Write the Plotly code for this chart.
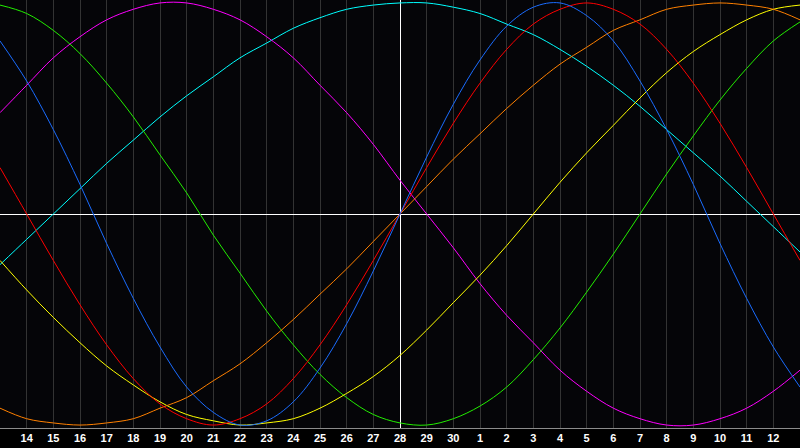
import plotly.graph_objects as go

# day offsets relative to the 28th (centre line)
days = list(range(-15, 16))
tick_offsets = list(range(-14, 15))
tick_labels = ["14", "15", "16", "17", "18", "19", "20", "21", "22", "23", "24", "25", "26", "27",
               "28", "29", "30", "1", "2", "3", "4", "5", "6", "7", "8", "9", "10", "11", "12"]

# values in percent, one per day
blue = [82, 63, 40, 14, -14, -40, -63, -82, -94, -100, -98, -89, -73, -52, -27, 0,
        27, 52, 73, 89, 98, 100, 94, 82, 63, 40, 14, -14, -40, -63, -82]
red = [22, 0, -22, -43, -62, -78, -90, -97, -100, -97, -90, -78, -62, -43, -22, 0,
       22, 43, 62, 78, 90, 97, 100, 97, 90, 78, 62, 43, 22, 0, -22]
green = [99, 95, 87, 76, 62, 46, 28, 10, -10, -28, -46, -62, -76, -87, -95, -99,
         -100, -97, -91, -82, -69, -54, -37, -19, 0, 19, 37, 54, 69, 82, 91]
magenta = [48, 61, 74, 84, 92, 97, 100, 100, 97, 92, 84, 74, 61, 48, 33, 16,
           0, -16, -33, -48, -61, -74, -84, -92, -97, -100, -100, -97, -92, -84, -74]
yellow = [-22, -36, -49, -61, -72, -81, -89, -95, -98, -100, -99, -97, -92, -85, -77, -67,
          -55, -42, -29, -15, 0, 15, 29, 42, 55, 67, 77, 85, 92, 97, 99]
orange = [-92, -97, -99, -100, -99, -97, -92, -87, -79, -71, -61, -50, -38, -26, -13, 0,
          13, 26, 38, 50, 61, 71, 79, 87, 92, 97, 99, 100, 99, 97, 92]
cyan = [-24, -12, 0, 12, 24, 35, 46, 56, 65, 74, 81, 88, 93, 97, 99, 100,
        100, 98, 95, 90, 85, 78, 70, 61, 51, 40, 29, 18, 6, -6, -18]

series = [
    ("cyan", cyan, "#00ffff"),
    ("magenta", magenta, "#ff00ff"),
    ("green", green, "#22ee00"),
    ("yellow", yellow, "#ffff00"),
    ("orange", orange, "#ff8000"),
    ("red", red, "#ff0000"),
    ("blue", blue, "#1a6cff"),
]

fig = go.Figure()
for name, vals, col in series:
    fig.add_trace(go.Scatter(x=days, y=vals, mode="lines", name=name,
                             line=dict(color=col, width=1, shape="spline"),
                             hoverinfo="skip"))

fig.update_layout(
    width=800, height=448,
    margin=dict(l=0, r=0, t=0, b=20),
    paper_bgcolor="#000000",
    plot_bgcolor="#050508",
    showlegend=False,
)
fig.update_xaxes(
    range=[-15, 15], tickvals=tick_offsets, ticktext=tick_labels,
    showgrid=True, gridcolor="#333333", gridwidth=1,
    zeroline=True, zerolinecolor="#ffffff", zerolinewidth=1,
    showline=True, linecolor="#8c8c8c", linewidth=1, mirror=True,
    ticks="", tickfont=dict(family="Liberation Sans", size=11, color="#ffffff", weight="bold"),
    fixedrange=True,
)
fig.update_yaxes(
    range=[-101.4, 101.4], showticklabels=False, showgrid=False,
    zeroline=True, zerolinecolor="#ffffff", zerolinewidth=1,
    showline=True, linecolor="#8c8c8c", linewidth=1, mirror=True,
    ticks="", fixedrange=True,
)
fig.write_html("out.html", config={"displayModeBar": False},
               post_script="document.body.style.margin='0';document.body.style.background='#000';")
